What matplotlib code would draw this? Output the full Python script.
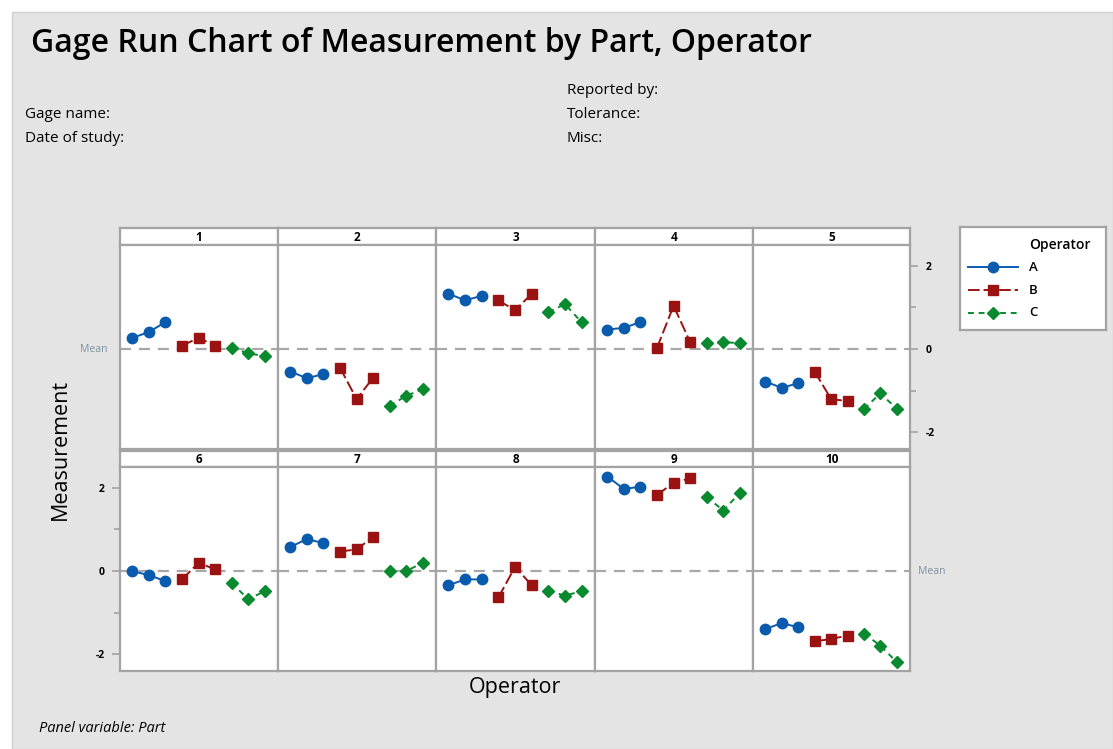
import matplotlib
matplotlib.use("Agg")
import matplotlib.pyplot as plt
from matplotlib.patches import Rectangle
from matplotlib.lines import Line2D
import numpy as np

plt.rcParams['font.family'] = ['Open Sans', 'DejaVu Sans']

# ---------------- data ----------------
parts = [1, 2, 3, 4, 5, 6, 7, 8, 9, 10]
operators = ["A", "B", "C"]
op_A = [[0.27, 0.41, 0.65], [-0.54, -0.70, -0.60], [1.33, 1.17, 1.28], [0.47, 0.51, 0.65],
        [-0.78, -0.93, -0.82], [0.00, -0.10, -0.24], [0.58, 0.77, 0.67], [-0.34, -0.20, -0.20],
        [2.27, 1.97, 2.03], [-1.39, -1.25, -1.35]]
op_B = [[0.08, 0.27, 0.08], [-0.45, -1.20, -0.69], [1.17, 0.93, 1.33], [0.03, 1.04, 0.17],
        [-0.54, -1.20, -1.25], [-0.20, 0.20, 0.04], [0.47, 0.52, 0.82], [-0.63, 0.10, -0.34],
        [1.83, 2.12, 2.23], [-1.69, -1.63, -1.55]]
op_C = [[0.03, -0.10, -0.17], [-1.37, -1.12, -0.97], [0.89, 1.08, 0.64], [0.14, 0.17, 0.14],
        [-1.44, -1.06, -1.44], [-0.28, -0.68, -0.48], [0.00, 0.00, 0.20], [-0.48, -0.59, -0.48],
        [1.79, 1.45, 1.88], [-1.50, -1.79, -2.19]]
mean_value = 0.0
y_ticks = [-2, 0, 2]
y_minor = [-1, 1]

# ---------------- style ----------------
W, H = 1113, 749
colors = {"A": "#0A5BAE", "B": "#9B1212", "C": "#0A8A2E"}
markers = {"A": "o", "B": "s", "C": "D"}
msizes = {"A": 7.5, "B": 7.0, "C": 6.5}
lstyles = {"A": "-", "B": (0, (6, 2)), "C": (0, (3, 2.5))}
series = {"A": op_A, "B": op_B, "C": op_C}
border = "#A3A3A3"
bg = "#E4E4E4"

fig = plt.figure(figsize=(W / 100, H / 100), dpi=100)
fig.patch.set_facecolor("white")
fig.add_artist(Rectangle((12 / W, 0), 1 - 12 / W, 1 - 12 / H, transform=fig.transFigure,
                         facecolor=bg, edgecolor="#D0D0D0", lw=1, zorder=-10))


def fx(px):
    return px / W


def fy(py):
    return 1 - py / H


col_edges = [120, 278, 436, 595, 753, 910]
rows = [dict(strip=(228, 245), plot=(245, 449)), dict(strip=(451, 467), plot=(467, 671))]

for i, part in enumerate(parts):
    r, c = divmod(i, 5)
    x0, x1 = col_edges[c], col_edges[c + 1]
    sy0, sy1 = rows[r]["strip"]
    py0, py1 = rows[r]["plot"]
    # strip
    sax = fig.add_axes([fx(x0), fy(sy1), fx(x1) - fx(x0), fy(sy0) - fy(sy1)])
    sax.set_facecolor("white")
    sax.set_xticks([]); sax.set_yticks([])
    for s in sax.spines.values():
        s.set_color(border); s.set_linewidth(1.6)
    sax.text(0.5, 0.45, str(part), ha="center", va="center", fontsize=8.5,
             fontweight="bold", transform=sax.transAxes)
    # plot
    ax = fig.add_axes([fx(x0), fy(py1), fx(x1) - fx(x0), fy(py0) - fy(py1)])
    ax.set_facecolor("white")
    for s in ax.spines.values():
        s.set_color(border); s.set_linewidth(1.6)
    ax.set_xlim(0.25, 9.8)
    ax.set_ylim(-2.4, 2.5)
    ax.axhline(mean_value, color="#A8A8A8", lw=1.6, ls=(0, (5, 3.5)), zorder=1)
    for k, op in enumerate(operators):
        xs = np.arange(1, 4) + 3 * k
        ax.plot(xs, series[op][i], color=colors[op], ls=lstyles[op], lw=1.4,
                marker=markers[op], ms=msizes[op], mfc=colors[op], mec=colors[op],
                zorder=3)
    ax.set_xticks([])
    ax.set_yticks([])
    if (r == 0 and c == 4) or (r == 1 and c == 0):
        side = "right" if r == 0 else "left"
        ax.set_yticks(y_ticks)
        ax.set_yticks(y_minor, minor=True)
        ax.set_yticklabels([str(t) for t in y_ticks])
        ax.tick_params(axis="y", which="both", left=(side == "left"), right=(side == "right"),
                       labelleft=(side == "left"), labelright=(side == "right"),
                       color=border, width=1.2, labelsize=7.5, pad=5)
        ax.tick_params(axis="y", which="major", length=6)
        ax.tick_params(axis="y", which="minor", length=4)
        for lab in ax.get_yticklabels():
            lab.set_fontweight("bold")
    if r == 0 and c == 0:
        ax.annotate("Mean", xy=(0, mean_value), xycoords=("axes fraction", "data"),
                    xytext=(-9, 0), textcoords="offset points", ha="right", va="center",
                    fontsize=7.5, color="#8090A0")
    if r == 1 and c == 4:
        ax.annotate("Mean", xy=(1, mean_value), xycoords=("axes fraction", "data"),
                    xytext=(6, 0), textcoords="offset points", ha="left", va="center",
                    fontsize=7.5, color="#8090A0")

# ---------------- texts ----------------
fig.text(fx(31), fy(44), "Gage Run Chart of Measurement by Part, Operator", fontsize=23,
         ha="left", va="center", fontweight="semibold")
hdr = dict(fontsize=11, ha="left", va="center")
fig.text(fx(25), fy(114), "Gage name:", **hdr)
fig.text(fx(25), fy(138), "Date of study:", **hdr)
fig.text(fx(567), fy(90), "Reported by:", **hdr)
fig.text(fx(567), fy(114), "Tolerance:", **hdr)
fig.text(fx(567), fy(138), "Misc:", **hdr)
fig.text(fx(60), fy(450), "Measurement", rotation=90, fontsize=15.5, ha="center", va="center")
fig.text(fx(515), fy(687), "Operator", fontsize=15.5, ha="center", va="center")
fig.text(fx(39), fy(728), "Panel variable: Part", fontsize=10.5, style="italic",
         ha="left", va="center")

# ---------------- legend ----------------
lax = fig.add_axes([fx(960), fy(330), fx(1106) - fx(960), fy(227) - fy(330)])
lax.set_xlim(0, 146); lax.set_ylim(103, 0)
lax.set_facecolor("white"); lax.set_xticks([]); lax.set_yticks([])
for s in lax.spines.values():
    s.set_color(border); s.set_linewidth(1.6)
lax.text(69, 18, "Operator", fontsize=10, ha="left", va="center", fontweight="semibold")
for k, op in enumerate(operators):
    yy = 40 + 23 * k
    lax.add_line(Line2D([8, 58], [yy, yy], color=colors[op], ls=lstyles[op], lw=1.4))
    lax.add_line(Line2D([33], [yy], color=colors[op], marker=markers[op], ms=msizes[op]))
    lax.text(69, yy, op, fontsize=9.5, ha="left", va="center", fontweight="semibold")

fig.savefig("out.png", dpi=100, facecolor=fig.get_facecolor())
